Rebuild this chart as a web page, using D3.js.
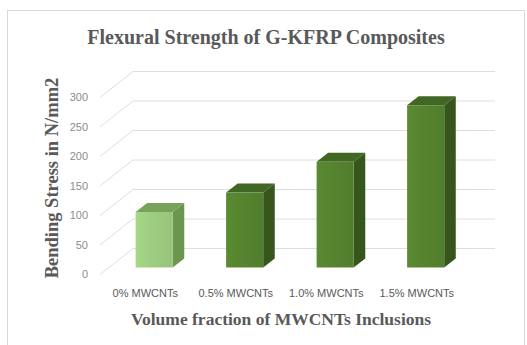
<!DOCTYPE html>
<html>
<head>
<meta charset="utf-8">
<script src="https://cdn.jsdelivr.net/npm/d3@7"></script>
<style>
  body { margin: 0; background: #fff; }
  svg { display: block; }
</style>
</head>
<body>
<svg width="527" height="345"></svg>
<script>
// chart data
const categories = ["0% MWCNTs", "0.5% MWCNTs", "1.0% MWCNTs", "1.5% MWCNTs"];
const values = [94, 127, 179, 275];
const yTicks = [0, 50, 100, 150, 200, 250, 300];

const svg = d3.select("svg");

// oblique 3d: depth offset of back wall
const depthX = 33;
const depthY = -26;
// bars sit between these depth fractions
const barFront = 0.27;
const barBack = 0.62;

const x = d3.scaleBand().domain(categories).range([100, 462]).padding(0);
const y = d3.scaleLinear().domain([0, 300]).range([274.5, 97.5]);
const barW = x.bandwidth() * 0.41;

// outer border
svg.append("rect")
  .attr("x", 7.5).attr("y", 10.5)
  .attr("width", 517).attr("height", 345)
  .attr("fill", "#fff")
  .attr("stroke", "#d9d9d9");

// side wall diagonals + back wall gridlines
const grid = svg.append("g").attr("fill", "none").attr("stroke", "#dedede").attr("stroke-width", 1);
yTicks.forEach((t) => {
  const x0 = x.range()[0];
  const x1 = x.range()[1];
  grid.append("path")
    .attr("d", `M${x0},${y(t)} L${x0 + depthX},${y(t) + depthY} L${x1 + depthX},${y(t) + depthY}`);
});

// tick labels
svg.append("g")
  .selectAll("text")
  .data(yTicks)
  .enter()
  .append("text")
  .attr("x", 88)
  .attr("y", (d) => y(d))
  .attr("dy", "0.35em")
  .attr("text-anchor", "end")
  .attr("font-family", "Liberation Sans, Arial, sans-serif")
  .attr("font-size", 11)
  .attr("fill", "#8c8c8c")
  .text((d) => d);

// bars
const frontCol = ["#9dcd80", "#55832f", "#55832f", "#55832f"];
const sideCol = ["#6a964e", "#36561d", "#36561d", "#36561d"];
const topCol = ["#78a25a", "#426624", "#426624", "#426624"];

// subtle horizontal shading on front faces
const defs = svg.append("defs");
frontCol.forEach((col, i) => {
  const g = defs.append("linearGradient").attr("id", "fg" + i).attr("x1", 0).attr("x2", 1).attr("y1", 0).attr("y2", 0);
  g.append("stop").attr("offset", "0%").attr("stop-color", d3.color(col).brighter(0.15));
  g.append("stop").attr("offset", "45%").attr("stop-color", col);
  g.append("stop").attr("offset", "100%").attr("stop-color", d3.color(col).darker(0.12));
});

const bars = svg.append("g");
categories.forEach((c, i) => {
  const cx = x(c) + x.bandwidth() / 2;
  const fx = cx - barW / 2 + depthX * barFront;
  const fy0 = y(0) + depthY * barFront;
  const fy1 = y(values[i]) + depthY * barFront;
  const dx = depthX * (barBack - barFront);
  const dy = depthY * (barBack - barFront);
  // side face
  bars.append("path")
    .attr("d", `M${fx + barW},${fy1} L${fx + barW + dx},${fy1 + dy} L${fx + barW + dx},${fy0 + dy} L${fx + barW},${fy0} Z`)
    .attr("fill", sideCol[i]);
  // top face
  bars.append("path")
    .attr("d", `M${fx},${fy1} L${fx + dx},${fy1 + dy} L${fx + barW + dx},${fy1 + dy} L${fx + barW},${fy1} Z`)
    .attr("fill", topCol[i]);
  // front face
  bars.append("rect")
    .attr("x", fx)
    .attr("y", fy1)
    .attr("width", barW)
    .attr("height", fy0 - fy1)
    .attr("fill", `url(#fg${i})`);
});

// category labels
svg.append("g")
  .selectAll("text")
  .data(categories)
  .enter()
  .append("text")
  .attr("x", (d) => x(d) + x.bandwidth() / 2)
  .attr("y", 297)
  .attr("text-anchor", "middle")
  .attr("font-family", "Liberation Sans, Arial, sans-serif")
  .attr("font-size", 11)
  .attr("fill", "#595959")
  .text((d) => d);

// title
svg.append("text")
  .attr("x", 266)
  .attr("y", 44)
  .attr("text-anchor", "middle")
  .attr("font-family", "Liberation Serif, Times New Roman, serif")
  .attr("font-weight", "bold")
  .attr("font-size", 20)
  .attr("fill", "#595959")
  .text("Flexural Strength of G-KFRP Composites");

// axis titles
svg.append("text")
  .attr("x", 281)
  .attr("y", 325)
  .attr("text-anchor", "middle")
  .attr("font-family", "Liberation Serif, Times New Roman, serif")
  .attr("font-weight", "bold")
  .attr("font-size", 17.5)
  .attr("fill", "#595959")
  .text("Volume fraction of MWCNTs Inclusions");

svg.append("text")
  .attr("transform", "translate(58,178) rotate(-90)")
  .attr("text-anchor", "middle")
  .attr("font-family", "Liberation Serif, Times New Roman, serif")
  .attr("font-weight", "bold")
  .attr("font-size", 18.5)
  .attr("fill", "#595959")
  .text("Bending Stress in N/mm2");
</script>
</body>
</html>
